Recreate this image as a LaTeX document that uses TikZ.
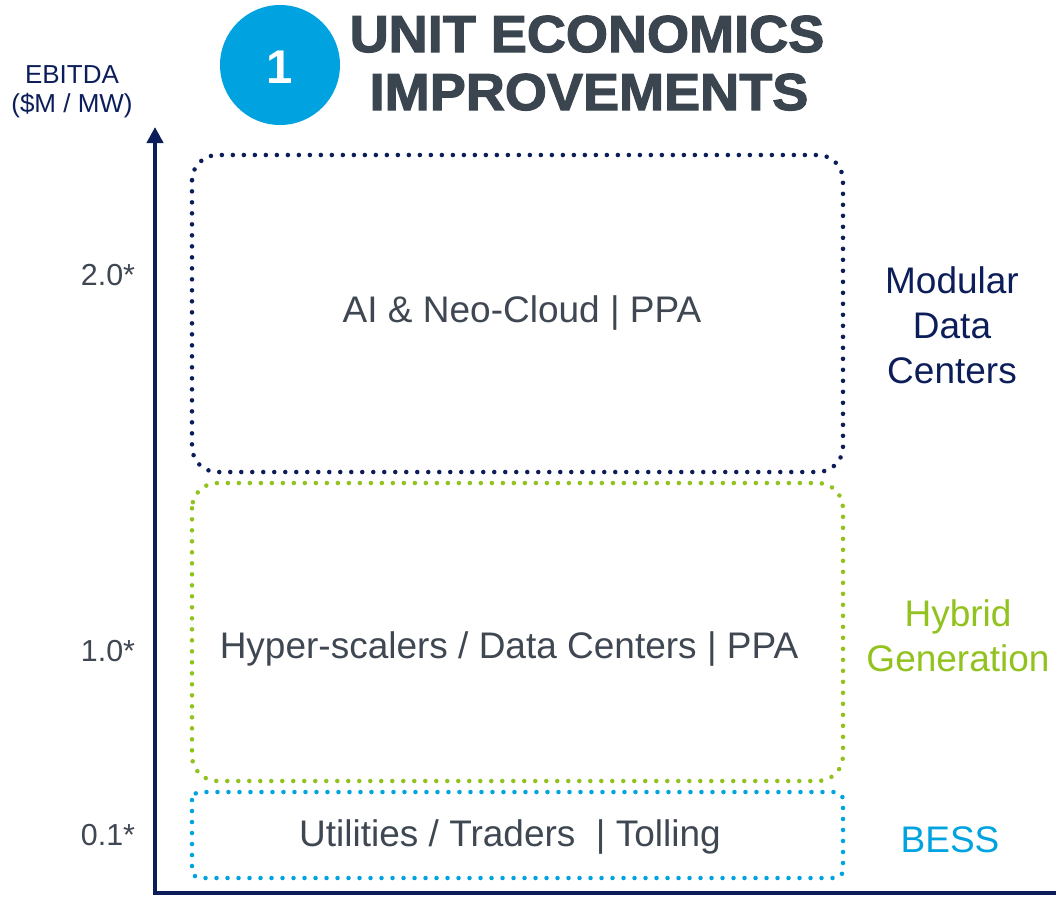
\documentclass[tikz,border=0pt]{standalone}
\usepackage{fontspec}
\usepackage{graphicx}
\setmainfont{Liberation Sans}
\newfontfamily\titlefont[FakeBold=2.2]{Liberation Sans Bold}
\usetikzlibrary{arrows.meta}
\definecolor{navy}{RGB}{12,30,90}
\definecolor{hgreen}{RGB}{146,194,30}
\definecolor{bblue}{RGB}{0,163,224}
\definecolor{titlegray}{RGB}{58,69,80}
\definecolor{txtgray}{RGB}{63,71,82}
\tikzset{
  dotbox/.style={line width=3.4pt, line cap=round, dash pattern=on 0pt off 8.25pt},
  boxtext/.style={font=\fontsize{27.75}{33.4}\selectfont, text=txtgray, anchor=base, inner sep=0pt},
  ticklabel/.style={font=\fontsize{22.8}{27}\selectfont, text=txtgray, anchor=base, inner sep=0pt},
  sidelabel/.style={font=\fontsize{27.75}{33.4}\selectfont, align=center, anchor=base, inner sep=0pt},
  axisline/.style={navy, line width=3pt},
  titletext/.style={font=\titlefont\fontsize{39}{43.5}\selectfont, text=titlegray, anchor=base, inner sep=0pt}
}
\begin{document}
\begin{tikzpicture}[x=0.75pt,y=-0.75pt]
\useasboundingbox (0,0) rectangle (1056,897);
% title
\node[circle, fill=bblue, minimum size=90pt, inner sep=0pt] (badge) at (280,65) {};
\node[font=\bfseries\fontsize{35.5}{40}\selectfont, text=white, anchor=base, inner sep=0pt] (badgenum) at (280,83) {1};
\node[titletext] (title1) at (587,52) {\scalebox{1.04}[1]{UNIT ECONOMICS}};
\node[titletext] (title2) at (589,110) {\scalebox{1.04}[1]{IMPROVEMENTS}};
% axis label
\node[font=\fontsize{19.5}{24}\selectfont, text=navy, anchor=base, inner sep=0pt] (ylab1) at (72,83) {EBITDA};
\node[font=\fontsize{19.5}{24}\selectfont, text=navy, anchor=base, inner sep=0pt] (ylab2) at (72,112) {(\$M / MW)};
% axes
\coordinate (origin) at (155,893);
\coordinate (ytip) at (155,127);
\coordinate (xend) at (1058,893);
\draw[axisline, -{Triangle[width=12pt,length=12pt]}] (origin) -- (ytip);
\draw[axisline] ([xshift=-1.5pt]origin) -- (xend);
% boxes
\draw[dotbox, navy, rounded corners=19pt] (192,155) rectangle (843,472);
\draw[dotbox, hgreen, rounded corners=19pt] (192,483) rectangle (843,781);
\draw[dotbox, bblue, rounded corners=6pt] (192,792) rectangle (843,878);
% box texts
\node[boxtext] (ai) at (522,322) {AI \& Neo-Cloud | PPA};
\node[boxtext] (hyper) at (509,658) {Hyper-scalers / Data Centers | PPA};
\node[boxtext] (util) at (510,846) {Utilities / Traders\ \ | Tolling};
% tick labels
\node[ticklabel] (t2) at (108,285) {2.0*};
\node[ticklabel] (t1) at (108,661) {1.0*};
\node[ticklabel] (t0) at (108,845) {0.1*};
% side labels (base anchor = last line's baseline)
\node[sidelabel, text=navy] (mdc) at (952,383) {Modular\\Data\\Centers};
\node[sidelabel, text=hgreen] (hyb) at (958,671) {Hybrid\\Generation};
\node[sidelabel, text=bblue] (bess) at (950,852) {BESS};
\end{tikzpicture}
\end{document}
